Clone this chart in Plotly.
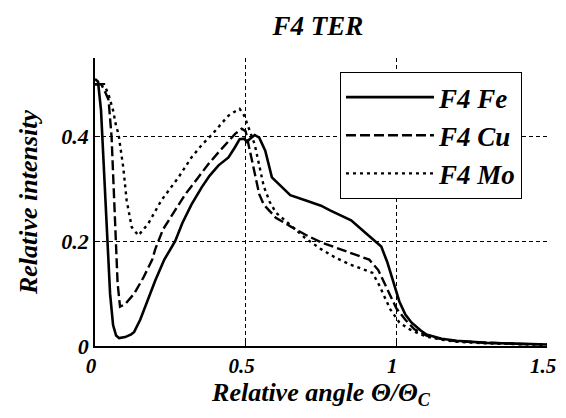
import plotly.graph_objects as go

# Data
fe_x = [0, 0.01, 0.02, 0.03, 0.04, 0.05, 0.06, 0.07, 0.08, 0.1, 0.12, 0.13, 0.15, 0.17, 0.2, 0.23,
        0.266, 0.29, 0.32, 0.354, 0.38, 0.41, 0.443, 0.465, 0.48, 0.495, 0.504, 0.515, 0.53, 0.545,
        0.565, 0.587, 0.62, 0.648, 0.7, 0.75, 0.78, 0.85, 0.9, 0.93, 0.95, 0.97, 0.99, 1.01, 1.03,
        1.05, 1.08, 1.1, 1.15, 1.2, 1.3, 1.4, 1.5]
fe_y = [0.51, 0.505, 0.45, 0.33, 0.21, 0.10, 0.04, 0.02, 0.015, 0.017, 0.022, 0.027, 0.05, 0.08,
        0.125, 0.165, 0.2, 0.235, 0.27, 0.303, 0.325, 0.345, 0.36, 0.38, 0.395, 0.396, 0.39, 0.396,
        0.403, 0.398, 0.373, 0.322, 0.303, 0.288, 0.278, 0.268, 0.259, 0.24, 0.215, 0.2, 0.19, 0.16,
        0.12, 0.085, 0.06, 0.045, 0.03, 0.022, 0.014, 0.01, 0.006, 0.004, 0.003]

cu_x = [0, 0.02, 0.03, 0.045, 0.055, 0.065, 0.075, 0.083, 0.1, 0.13, 0.16, 0.19, 0.2, 0.226, 0.25,
        0.3, 0.34, 0.377, 0.41, 0.443, 0.465, 0.487, 0.5, 0.515, 0.53, 0.545, 0.56, 0.6, 0.65,
        0.7, 0.75, 0.8, 0.85, 0.91, 0.94, 0.96, 0.98, 1.0, 1.03, 1.06, 1.1, 1.15, 1.2, 1.3, 1.4, 1.5]
cu_y = [0.50, 0.50, 0.49, 0.47, 0.40, 0.25, 0.12, 0.075, 0.08, 0.10, 0.13, 0.165, 0.185, 0.223,
        0.245, 0.29, 0.32, 0.348, 0.37, 0.392, 0.405, 0.415, 0.41, 0.37, 0.33, 0.29, 0.27, 0.245,
        0.228, 0.212, 0.198, 0.188, 0.178, 0.165, 0.145, 0.12, 0.095, 0.072, 0.05, 0.032, 0.02,
        0.013, 0.009, 0.006, 0.004, 0.003]

mo_x = [0, 0.03, 0.045, 0.06, 0.07, 0.078, 0.094, 0.105, 0.122, 0.144, 0.177, 0.22, 0.277, 0.32,
        0.356, 0.39, 0.42, 0.443, 0.465, 0.48, 0.495, 0.51, 0.53, 0.545, 0.56, 0.58, 0.6, 0.65,
        0.7, 0.75, 0.8, 0.85, 0.92, 0.94, 0.96, 0.98, 1.01, 1.04, 1.07, 1.1, 1.15, 1.2, 1.3, 1.4, 1.5]
mo_y = [0.50, 0.50, 0.48, 0.45, 0.42, 0.405, 0.34, 0.278, 0.227, 0.211, 0.234, 0.278, 0.322, 0.36,
        0.385, 0.405, 0.425, 0.44, 0.448, 0.453, 0.44, 0.417, 0.385, 0.345, 0.305, 0.275, 0.255,
        0.23, 0.205, 0.185, 0.168, 0.155, 0.14, 0.12, 0.095, 0.07, 0.045, 0.033, 0.025, 0.018,
        0.012, 0.008, 0.005, 0.003, 0.002]

names = ["F4 Fe", "F4 Cu", "F4 Mo"]
x_ticks = [0, 0.5, 1, 1.5]
x_tick_text = ["0", "0.5", "1", "1.5"]
y_ticks = [0, 0.2, 0.4]
y_tick_text = ["0", "0.2", "0.4"]

SERIF = "Liberation Serif, Times New Roman, serif"
bi = dict(family=SERIF, color="black", weight="bold", style="italic")

fig = go.Figure()
fig.add_trace(go.Scatter(x=fe_x, y=fe_y, mode="lines", name=names[0],
                         line=dict(color="black", width=2.6)))
fig.add_trace(go.Scatter(x=cu_x, y=cu_y, mode="lines", name=names[1],
                         line=dict(color="black", width=2.4, dash="10px,4px")))
fig.add_trace(go.Scatter(x=mo_x, y=mo_y, mode="lines", name=names[2],
                         line=dict(color="black", width=2.4, dash="3px,4px")))

fig.update_layout(
    width=550, height=402,
    margin=dict(l=87, r=11, t=50, b=64),
    paper_bgcolor="white", plot_bgcolor="white",
    title=dict(text="F4 TER", x=310 / 550, xanchor="center", y=1 - 18 / 402, yanchor="middle",
               font=dict(size=27, **bi)),
    showlegend=True,
    legend=dict(x=0.542, y=0.951, xanchor="left", yanchor="top",
                bgcolor="white", bordercolor="black", borderwidth=1,
                font=dict(size=27, **bi), itemwidth=88, tracegroupgap=4),
    xaxis=dict(range=[0, 1.5], tickvals=x_ticks, ticktext=x_tick_text, automargin=False,
               showline=True, linecolor="black", linewidth=1.5,
               ticks="inside", ticklen=5, tickcolor="black",
               showgrid=True, gridcolor="black", gridwidth=1, griddash="4px,3px",
               zeroline=False, tickfont=dict(size=21, **bi), ticklabeloverflow="allow",
               ticklabelshift=-4,
               title=dict(text="Relative angle Θ/Θ<sub>C</sub>", font=dict(size=26, **bi),
                          standoff=5)),
    yaxis=dict(range=[0, 0.55], tickvals=y_ticks, ticktext=y_tick_text, automargin=False,
               showline=True, linecolor="black", linewidth=1.5,
               ticks="inside", ticklen=5, tickcolor="black",
               showgrid=True, gridcolor="black", gridwidth=1, griddash="4px,3px",
               zeroline=False, tickfont=dict(size=22, **bi),
               title=dict(text="Relative intensity", font=dict(size=26, **bi),
                          standoff=16)),
)

fig.write_html("out.html")
